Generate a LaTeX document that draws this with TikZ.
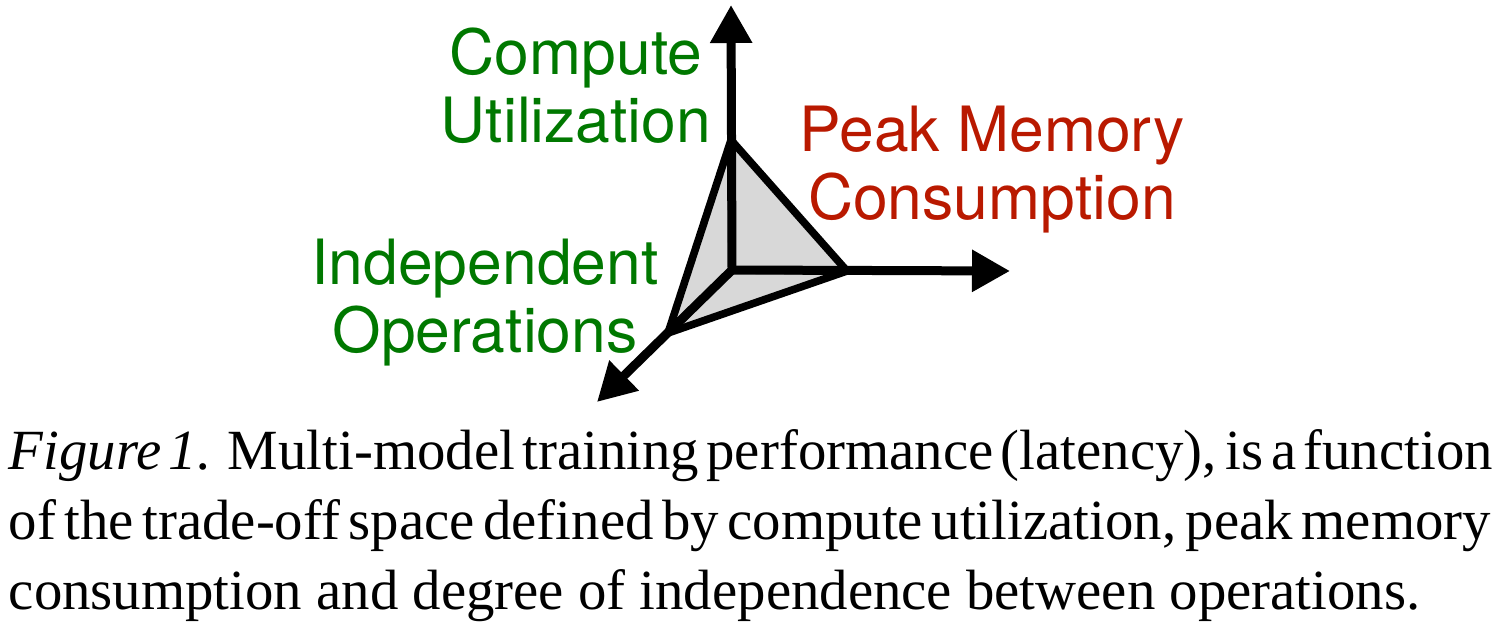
\documentclass[tikz,border=0pt]{standalone}
\usepackage{fontspec}
\setmainfont{Liberation Serif}
\newfontfamily\labelfont{TeX Gyre Heros}
\usetikzlibrary{arrows.meta}
\definecolor{labgreen}{RGB}{0,120,0}
\definecolor{labred}{RGB}{185,25,0}
\definecolor{facegray}{RGB}{216,216,216}
\newcommand{\capline}[1]{{\spaceskip=.25em plus .3em minus .12em\makebox[370.5pt][s]{#1}}}
\tikzset{
  axis/.style={line width=2.25pt, -{Triangle[length=9.5pt,width=10pt]}},
  edge/.style={line width=1.9pt, line join=round},
  axlabel/.style={inner sep=0pt, align=center, font=\labelfont\fontsize{15.6pt}{17pt}\selectfont},
  caption/.style={inner sep=0pt, anchor=north west, align=left,
    font=\fontsize{14.2pt}{17.5pt}\selectfont}
}
\begin{document}
\begin{tikzpicture}[x=0.25pt,y=-0.25pt]
\useasboundingbox (0,0) rectangle (1498,630);
% vertices
\coordinate (O) at (732,270);
\coordinate (A) at (731,140);
\coordinate (B) at (847,271);
\coordinate (C) at (668,333);
\coordinate (Ytip) at (731,5);
\coordinate (Xtip) at (1010,271);
\coordinate (Ztip) at (597,402);
% faces
\fill[facegray] (A) -- (B) -- (C) -- cycle;
\draw[edge] (A) -- (B) -- (C) -- cycle;
\draw[edge] (O) -- (A);
\draw[edge] (O) -- (B);
\draw[edge] (O) -- (C);
% axes
\draw[axis] (O) -- (Ytip);
\draw[axis] (O) -- (Xtip);
\draw[axis] (O) -- (Ztip);
% labels
\node[axlabel, text=labgreen] (cu) at (576,86) {Compute\\Utilization};
\node[axlabel, text=labred] (pm) at (992,170) {Peak Memory\\Consumption};
\node[axlabel, text=labgreen] (io) at (485,303) {Independent\\Operations};
% caption
\node[caption] (cap) at (8,429) {\capline{\textit{Figure 1.} Multi-model training performance (latency), is a function}\\
\capline{of the trade-off space defined by compute utilization, peak memory}\\
consumption and degree of independence between operations.};
\end{tikzpicture}
\end{document}
